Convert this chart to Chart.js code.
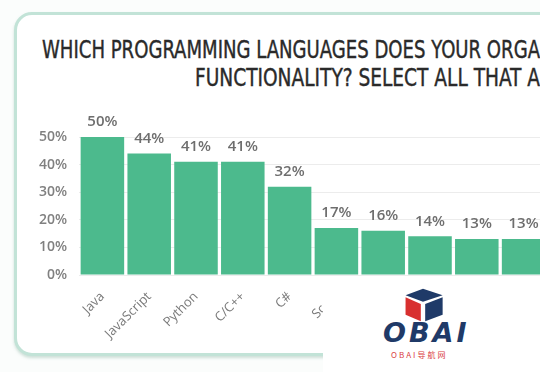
<!DOCTYPE html>
<html lang="en">
<head>
  <meta charset="UTF-8" />
  <title>Programming languages used</title>
  <script src="https://cdn.jsdelivr.net/npm/chart.js"></script>
  <style>
    html, body { margin: 0; padding: 0; background: #fff; }
    .page { position: relative; width: 540px; height: 372px; overflow: hidden; background: #fbfdfc; }
    .card { position: absolute; left: 14px; top: 12px; width: 640px; height: 338px; border: 3px solid #c2e3d7; border-radius: 18px; background: #fff; box-shadow: 0 2px 3px rgba(120,170,150,0.35); }
    .title { position: absolute; white-space: nowrap; font-family: 'Liberation Sans Narrow', 'DejaVu Sans', sans-serif; font-stretch: condensed; font-size: 24px; color: #2a2a2a; -webkit-text-stroke: 0.4px #2a2a2a; transform-origin: 0 0; }
    .chart-box { position: absolute; left: 0; top: 0; width: 620px; height: 372px; }
    .mark { position: absolute; left: 323px; top: 283px; width: 220px; height: 92px; background: #fff; }
    .mark .logo { position: absolute; left: 76px; top: 3px; }
    .mark .big { position: absolute; left: 60px; top: 34px; font-family: 'DejaVu Sans', sans-serif; font-weight: bold; font-style: italic; font-size: 27px; letter-spacing: 3px; color: #1f3a68; }
    .mark .small { position: absolute; left: 68px; top: 66px; font-family: 'Noto Sans CJK SC', sans-serif; font-size: 8px; letter-spacing: 2px; color: #d9403f; }
  </style>
</head>
<body>
<div class="page">
  <div class="card"></div>
  <div class="title" id="t1" style="left:42px; top:36px;"><span id="v1">WHICH PROGRAMMING LANGUAGES DOES YOUR ORGA</span>NIZATION</div>
  <div class="title" id="t2" style="left:195px; top:64px;"><span id="v2">FUNCTIONALITY? SELECT ALL THAT A</span>PPLY</div>
  <div class="chart-box"><canvas id="langChart"></canvas></div>
  <div class="mark">
    <svg class="logo" width="48" height="38" viewBox="0 0 44 34">
      <polygon points="22,2 40,8 22,14 6,8" fill="#1f3a68"/>
      <polygon points="6,10 20,16 20,32 6,26" fill="#d8302f"/>
      <polygon points="24,16 40,10 40,26 24,32" fill="#1f3a68"/>
    </svg>
    <div class="big">OBAI</div>
    <div class="small">OBAI导航网</div>
  </div>
</div>

<script>
  const languages = ['Java', 'JavaScript', 'Python', 'C/C++', 'C#', 'Scala', 'R', 'Go', 'Ruby', 'PHP'];
  const shares = [50, 44, 41, 41, 32, 17, 16, 14, 13, 13];
  const yTicks = [0, 10, 20, 30, 40, 50];

  // stretch the title so the visible part spans like the original
  function fitTitle(id, spanId, targetWidth) {
    const w = document.getElementById(spanId).getBoundingClientRect().width;
    document.getElementById(id).style.transform = 'scaleX(' + (targetWidth / w) + ')';
  }
  fitTitle('t1', 'v1', 498);
  fitTitle('t2', 'v2', 345);

  // value labels above bars
  const barLabels = {
    id: 'barLabels',
    afterDatasetsDraw(chart) {
      const ctx = chart.ctx;
      const meta = chart.getDatasetMeta(0);
      ctx.save();
      ctx.font = '600 15px "Open Sans", sans-serif';
      ctx.fillStyle = '#6e6e6e';
      ctx.textAlign = 'center';
      ctx.textBaseline = 'middle';
      meta.data.forEach((bar, i) => {
        ctx.fillText(shares[i] + '%', bar.x, bar.y - 15);
      });
      ctx.restore();
    }
  };

  new Chart(document.getElementById('langChart'), {
    type: 'bar',
    data: {
      labels: languages,
      datasets: [{
        data: shares,
        backgroundColor: '#4cba8d',
        barPercentage: 0.93,
        categoryPercentage: 1
      }]
    },
    options: {
      responsive: true,
      maintainAspectRatio: false,
      animation: false,
      layout: { padding: { top: 137, right: 73, bottom: 0, left: 0 } },
      plugins: { legend: { display: false }, tooltip: { enabled: false }, title: { display: false } },
      scales: {
        x: {
          grid: { display: false },
          border: { display: false },
          ticks: {
            minRotation: 45, maxRotation: 45, padding: 6,
            color: '#7a7a7a',
            font: { family: 'Open Sans', size: 13 }
          },
          afterFit(scale) { scale.height = 97; }
        },
        y: {
          min: 0, max: 50,
          afterBuildTicks(scale) { scale.ticks = yTicks.map(v => ({ value: v })); },
          grid: { color: '#ececec', drawTicks: false },
          border: { display: false },
          ticks: {
            padding: 12,
            color: '#808080',
            font: { family: 'Open Sans', size: 14, weight: '600' },
            callback: v => v + '%'
          },
          afterFit(scale) { scale.width = 79; }
        }
      }
    },
    plugins: [barLabels]
  });
</script>
</body>
</html>
